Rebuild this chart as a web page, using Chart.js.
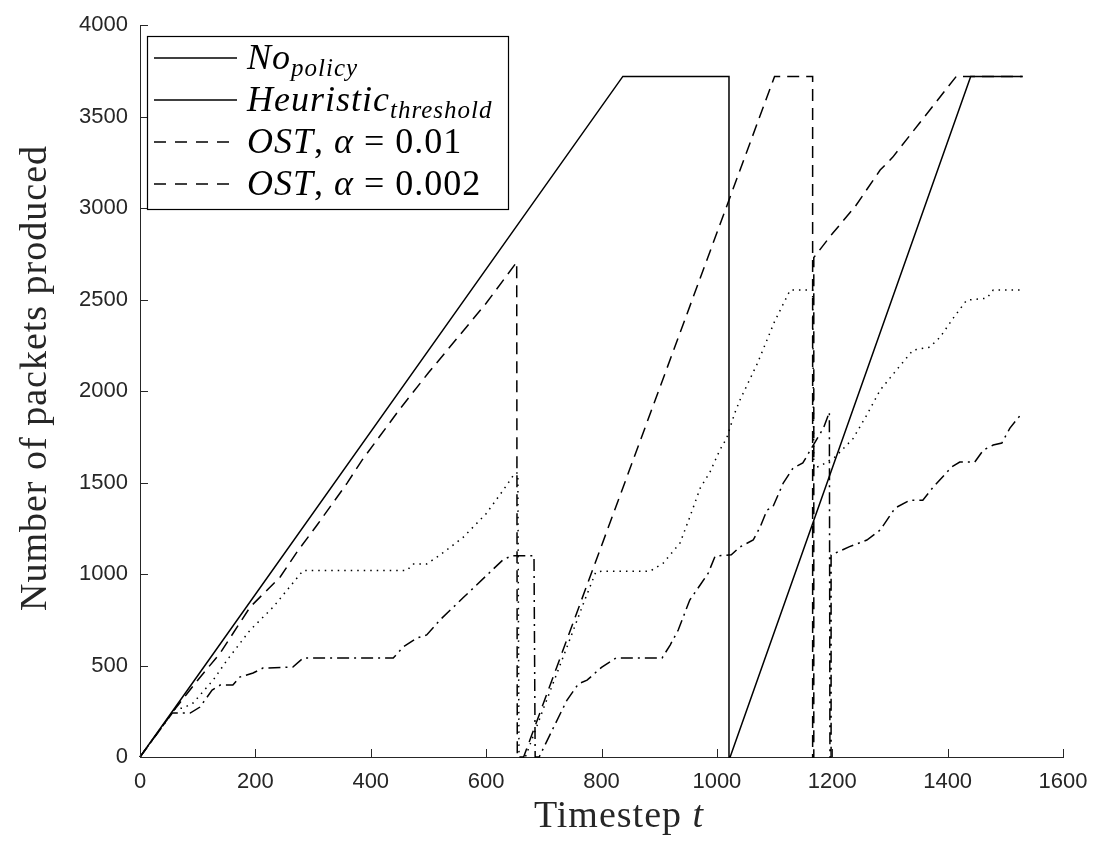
<!DOCTYPE html>
<html>
<head>
<meta charset="utf-8">
<script src="https://cdn.jsdelivr.net/npm/chart.js@4.4.1/dist/chart.umd.min.js"></script>
<style>
  html, body { margin: 0; padding: 0; background: #fff; }
</style>
</head>
<body>
<canvas id="packetsChart" width="1101" height="845"></canvas>
<script>
// [timestep, packets] pairs
const noPolicy = [
  [0, 0], [837, 3720], [1021, 3720], [1021, 0], [1023, 0], [1440, 3720], [1530, 3720]
];

const heuristicThreshold = [
  [0, 0], [60, 262], [75, 268], [92, 295], [127, 421], [151, 530], [191, 694], [231, 820],
  [265, 951], [283, 1020], [463, 1020], [473, 1055], [497, 1055], [520, 1104], [560, 1200],
  [600, 1330], [630, 1460], [650, 1552], [655, 1552], [657, 0], [668, 0], [700, 270],
  [740, 600], [770, 850], [790, 1010], [800, 1015], [884, 1015], [907, 1060], [936, 1169],
  [953, 1311], [971, 1469], [988, 1557], [1005, 1677], [1017, 1743], [1031, 1880],
  [1040, 1951], [1070, 2150], [1100, 2380], [1127, 2552], [1166, 2552], [1168, 1580],
  [1179, 1590], [1205, 1640], [1236, 1740], [1260, 1870], [1283, 2005], [1310, 2110],
  [1340, 2224], [1369, 2240], [1387, 2295], [1410, 2400], [1433, 2497], [1468, 2508],
  [1479, 2552], [1530, 2552]
];

const ostAlpha001 = [
  [0, 0], [60, 260], [100, 420], [139, 568], [191, 820], [243, 984], [272, 1120], [307, 1268],
  [359, 1497], [385, 1623], [450, 1900], [500, 2100], [550, 2290], [600, 2480], [653, 2705],
  [654, 0], [665, 0], [1100, 3720], [1166, 3720], [1166, 0], [1168, 0], [1168, 2730],
  [1200, 2860], [1240, 3010], [1283, 3208], [1305, 3279], [1350, 3460], [1415, 3720], [1530, 3720]
];

const ostAlpha0002 = [
  [0, 0], [56, 240], [87, 240], [104, 273], [125, 366], [139, 393], [161, 393], [173, 437],
  [196, 459], [213, 486], [265, 492], [283, 541], [439, 541], [456, 601], [480, 650],
  [497, 667], [520, 749], [560, 870], [600, 990], [630, 1080], [645, 1100], [683, 1100],
  [685, 0], [692, 0], [715, 150], [740, 310], [760, 400], [775, 420], [800, 490], [825, 541],
  [905, 541], [919, 612], [933, 694], [953, 858], [971, 940], [985, 1005], [997, 1098],
  [1025, 1105], [1040, 1148], [1063, 1186], [1075, 1257], [1087, 1350], [1097, 1366],
  [1115, 1497], [1132, 1579], [1149, 1607], [1170, 1720], [1185, 1800], [1195, 1885],
  [1196, 0], [1198, 0], [1198, 1104], [1230, 1150], [1260, 1186], [1283, 1240], [1309, 1361],
  [1335, 1404], [1357, 1404], [1375, 1475], [1407, 1585], [1421, 1612], [1447, 1612],
  [1462, 1678], [1479, 1705], [1494, 1716], [1508, 1798], [1529, 1880]
];

const xTicks = [0, 200, 400, 600, 800, 1000, 1200, 1400, 1600];
const yTicks = [0, 500, 1000, 1500, 2000, 2500, 3000, 3500, 4000];

// legend rows: text runs, i = math italic, r = roman, s = subscript
const legendRows = [
  { dash: [], runs: [['No', 'i'], ['policy', 's']] },
  { dash: [], runs: [['Heuristic', 'i'], ['threshold', 's']] },
  { dash: [12, 9], runs: [['OST', 'i'], [', ', 'r'], ['α', 'i'], [' = 0.01', 'r']] },
  { dash: [12, 9], runs: [['OST', 'i'], [', ', 'r'], ['α', 'i'], [' = 0.002', 'r']] }
];

const AXIS = '#262626';
const SERIF = '"Liberation Serif", "Times New Roman", serif';

const toXY = pts => pts.map(([x, y]) => ({ x, y }));

function series(label, pts, dash) {
  return {
    label,
    data: toXY(pts),
    borderColor: '#000',
    borderWidth: 1.5,
    borderDash: dash,
    pointRadius: 0,
    fill: false,
    tension: 0,
    clip: false
  };
}

// draws runs of mixed-style text starting at x, baseline y
function drawRuns(ctx, runs, x, y, size) {
  for (const [txt, kind] of runs) {
    if (kind === 's') {
      ctx.font = `italic ${Math.round(size * 0.7)}px ${SERIF}`;
      ctx.fillText(txt, x, y + size * 0.2);
    } else {
      ctx.font = `${kind === 'i' ? 'italic ' : ''}${size}px ${SERIF}`;
      ctx.fillText(txt, x, y);
    }
    x += ctx.measureText(txt).width;
  }
  return x;
}

const matlabLook = {
  id: 'matlabLook',
  afterDraw(chart) {
    const { ctx, chartArea: a, scales } = chart;
    ctx.save();

    // inward tick marks
    ctx.strokeStyle = AXIS;
    ctx.lineWidth = 1;
    ctx.beginPath();
    xTicks.forEach(t => {
      const px = Math.round(scales.x.getPixelForValue(t)) + 0.5;
      ctx.moveTo(px, a.bottom);
      ctx.lineTo(px, a.bottom - 8);
    });
    yTicks.forEach(t => {
      const py = Math.round(scales.y.getPixelForValue(t)) + 0.5;
      ctx.moveTo(a.left, py);
      ctx.lineTo(a.left + 8, py);
    });
    ctx.stroke();

    // axis titles
    ctx.fillStyle = AXIS;
    ctx.textBaseline = 'alphabetic';
    ctx.letterSpacing = '1px';
    ctx.font = `38px ${SERIF}`;
    const w1 = ctx.measureText('Timestep ').width;
    ctx.font = `italic 38px ${SERIF}`;
    const w2 = ctx.measureText('t').width;
    drawRuns(ctx, [['Timestep ', 'r'], ['t', 'i']], 619 - (w1 + w2) / 2, 827, 38);

    ctx.save();
    ctx.translate(46, 378);
    ctx.rotate(-Math.PI / 2);
    ctx.font = `38px ${SERIF}`;
    ctx.textAlign = 'center';
    ctx.fillText('Number of packets produced', 0, 0);
    ctx.restore();

    // legend
    const box = { x: 147.5, y: 36.5, w: 361, h: 173 };
    ctx.fillStyle = '#fff';
    ctx.fillRect(box.x, box.y, box.w, box.h);
    ctx.strokeStyle = '#000';
    ctx.lineWidth = 1.2;
    ctx.strokeRect(box.x, box.y, box.w, box.h);
    legendRows.forEach((row, i) => {
      const cy = 58 + i * 42;
      ctx.beginPath();
      ctx.setLineDash(row.dash);
      ctx.lineWidth = 1.5;
      ctx.moveTo(154, cy);
      ctx.lineTo(237, cy);
      ctx.stroke();
      ctx.setLineDash([]);
      ctx.fillStyle = '#000';
      drawRuns(ctx, row.runs, 247, cy + 11, 36);
    });

    ctx.restore();
  }
};

const tickFont = { family: '"Liberation Sans", Arial, sans-serif', size: 22 };
const plainNumber = v => String(v);

new Chart(document.getElementById('packetsChart').getContext('2d'), {
  type: 'line',
  data: {
    datasets: [
      series('No policy', noPolicy, []),
      series('Heuristic threshold', heuristicThreshold, [1.5, 5]),
      series('OST, α = 0.01', ostAlpha001, [12, 7]),
      series('OST, α = 0.002', ostAlpha0002, [12, 5, 2, 5])
    ]
  },
  options: {
    responsive: false,
    animation: false,
    events: [],
    layout: { padding: { top: 25, right: 38, left: 0, bottom: 0 } },
    plugins: { legend: { display: false }, tooltip: { enabled: false } },
    scales: {
      x: {
        type: 'linear',
        min: 0,
        max: 1600,
        afterFit: s => { s.height = 88; },
        afterBuildTicks: s => { s.ticks = xTicks.map(v => ({ value: v })); },
        ticks: { autoSkip: false, maxRotation: 0, padding: 12, color: AXIS, font: tickFont, callback: plainNumber },
        grid: { drawOnChartArea: false, drawTicks: false },
        border: { display: true, color: AXIS, width: 1 }
      },
      y: {
        type: 'linear',
        min: 0,
        max: 4000,
        afterFit: s => { s.width = 140; },
        afterBuildTicks: s => { s.ticks = yTicks.map(v => ({ value: v })); },
        ticks: { autoSkip: false, padding: 12, color: AXIS, font: tickFont, callback: plainNumber },
        grid: { drawOnChartArea: false, drawTicks: false },
        border: { display: true, color: AXIS, width: 1 }
      }
    }
  },
  plugins: [matlabLook]
});
</script>
</body>
</html>
